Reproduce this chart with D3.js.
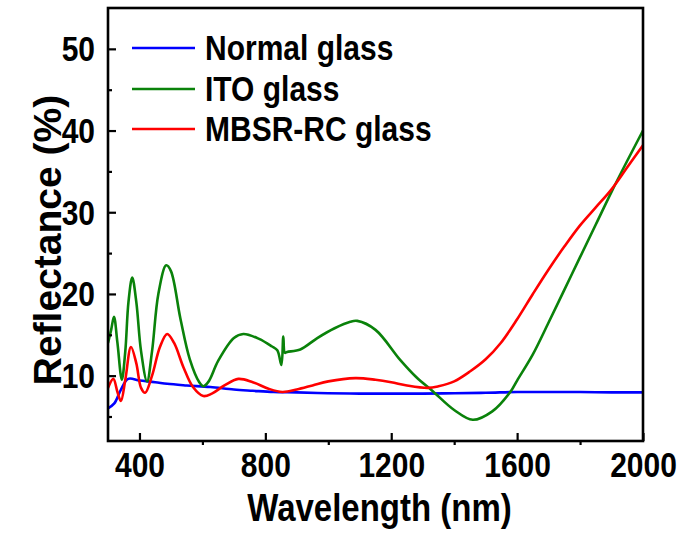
<!DOCTYPE html>
<html>
<head>
<meta charset="UTF-8">
<title>reflectance</title>
<style>
    body { margin: 0; background: #ffffff; }
    svg text { font-family: "Liberation Sans", Arial, sans-serif; font-weight: bold; fill: #000; }
</style>
<script src="https://d3js.org/d3.v7.min.js"></script>
</head>
<body>
<div id="plot"></div>
<script>
// wavelength (nm) / reflectance (%)
const normalWl = [300, 320, 340, 364, 400, 450, 488, 550, 625, 700, 760, 826, 900, 1000, 1100, 1200, 1300, 1400, 1500, 1600, 1700, 1800, 1900, 2000];
const normalR  = [6.0, 6.6, 8.2, 9.6, 9.4, 9.2, 9.0, 8.8, 8.6, 8.3, 8.15, 8.0, 7.95, 7.85, 7.8, 7.8, 7.8, 7.85, 7.9, 8.0, 8.0, 8.0, 7.95, 7.95];

const itoWl = [300, 310, 319, 330, 344, 355, 365, 377, 390, 405, 424, 440, 460, 485, 500, 530, 560, 590, 603, 620, 650, 700, 730, 780, 820, 838, 851, 857, 862, 869, 911, 965, 1020, 1070, 1092, 1150, 1229, 1280, 1332, 1400, 1459, 1520, 1580, 1600, 1650, 1700, 1750, 1800, 1850, 1900, 1950, 2000];
const itoR  = [14.0, 15.6, 17.2, 14.0, 9.5, 13.0, 19.0, 22.0, 19.0, 13.0, 9.3, 13.0, 20.0, 23.5, 22.8, 17.0, 12.0, 9.2, 8.7, 9.3, 11.8, 14.6, 15.1, 14.5, 13.6, 13.1, 11.3, 14.8, 12.8, 12.9, 13.2, 14.6, 15.8, 16.6, 16.7, 15.6, 11.9, 9.8, 8.1, 5.8, 4.6, 5.6, 8.1, 9.4, 12.6, 16.5, 20.5, 24.5, 28.5, 32.5, 36.3, 40.0];

const mbsrWl = [300, 317, 330, 341, 355, 373, 390, 405, 418, 440, 465, 488, 510, 540, 570, 603, 630, 670, 714, 760, 810, 854, 900, 950, 1000, 1086, 1150, 1200, 1250, 1316, 1350, 1400, 1450, 1500, 1548, 1600, 1650, 1700, 1750, 1800, 1850, 1900, 1950, 2000];
const mbsrR  = [8.5, 9.6, 8.0, 6.9, 9.5, 13.5, 11.5, 8.5, 7.9, 10.0, 13.5, 15.1, 14.0, 11.0, 8.6, 7.5, 7.8, 8.8, 9.6, 9.2, 8.4, 8.0, 8.3, 8.8, 9.3, 9.7, 9.5, 9.2, 8.8, 8.5, 8.7, 9.3, 10.5, 12.0, 14.0, 16.9, 20.0, 23.0, 25.8, 28.4, 30.6, 32.8, 35.5, 38.2];

const seriesNames = ["Normal glass", "ITO glass", "MBSR-RC glass"];
const seriesColors = ["#0000ff", "#0a820a", "#ff0000"];

const xTicks = [400, 800, 1200, 1600, 2000];
const xMinor = [600, 1000, 1400, 1800];
const yTicks = [10, 20, 30, 40, 50];
const yMinor = [5, 15, 25, 35, 45];

// the source figure is a bit taller than wide, text included
const stretch = 1.15;

function draw() {
    const width = 684, height = 536;
    const left = 108, right = 643, top = 8, bottom = 441;

    const svg = d3.select("#plot").append("svg")
        .attr("width", width)
        .attr("height", height);

    const x = d3.scaleLinear().domain([300, 2000]).range([left, right]);
    const y = d3.scaleLinear().domain([2, 55]).range([bottom, top]);

    const series = [
        normalWl.map((w, i) => [w, normalR[i]]),
        itoWl.map((w, i) => [w, itoR[i]]),
        mbsrWl.map((w, i) => [w, mbsrR[i]])
    ];

    const line = d3.line()
        .x(d => x(d[0]))
        .y(d => y(d[1]))
        .curve(d3.curveCatmullRom.alpha(0.5));

    svg.append("defs").append("clipPath").attr("id", "clip")
        .append("rect")
        .attr("x", left).attr("y", top)
        .attr("width", right - left).attr("height", bottom - top);

    const lines = svg.append("g").attr("clip-path", "url(#clip)");
    series.forEach((s, i) => {
        lines.append("path")
            .datum(s)
            .attr("fill", "none")
            .attr("stroke", seriesColors[i])
            .attr("stroke-width", 2.6)
            .attr("stroke-linejoin", "round")
            .attr("d", line);
    });

    // axes, major ticks pointing inward
    const xAxis = svg.append("g")
        .attr("transform", `translate(0, ${bottom})`)
        .call(d3.axisBottom(x).tickValues(xTicks).tickSizeInner(-8).tickSizeOuter(0).tickFormat(d3.format("d")));
    svg.append("g")
        .attr("transform", `translate(0, ${bottom})`)
        .call(d3.axisBottom(x).tickValues(xMinor).tickSize(4).tickFormat(""));

    const yAxis = svg.append("g")
        .attr("transform", `translate(${left}, 0)`)
        .call(d3.axisLeft(y).tickValues(yTicks).tickSizeInner(-8).tickSizeOuter(0).tickFormat(d3.format("d")));
    svg.append("g")
        .attr("transform", `translate(${left}, 0)`)
        .call(d3.axisLeft(y).tickValues(yMinor).tickSize(-4).tickFormat(""));

    svg.selectAll(".domain").remove();
    svg.selectAll(".tick line").attr("stroke", "#000").attr("stroke-width", 2.2);
    xAxis.selectAll(".tick text")
        .style("font-size", "30px")
        .attr("y", 0).attr("dy", null)
        .attr("transform", `translate(0, 36) scale(1, ${stretch})`);
    yAxis.selectAll(".tick text")
        .style("font-size", "30px")
        .attr("x", 0).attr("dy", null)
        .attr("transform", `translate(-13, 12) scale(1, ${stretch})`);

    svg.append("rect")
        .attr("x", left).attr("y", top)
        .attr("width", right - left).attr("height", bottom - top)
        .attr("fill", "none")
        .attr("stroke", "#000")
        .attr("stroke-width", 2.6);

    svg.append("text")
        .attr("transform", `translate(${(left + right) / 2 + 4}, 521) scale(1, ${stretch})`)
        .attr("text-anchor", "middle")
        .style("font-size", "33px")
        .text("Wavelength (nm)");

    svg.append("text")
        .attr("transform", "translate(61, 240) rotate(-90)")
        .attr("text-anchor", "middle")
        .style("font-size", "39px")
        .text("Reflectance (%)");

    // legend
    const legendY = [48, 89, 129];
    seriesNames.forEach((name, i) => {
        svg.append("line")
            .attr("x1", 132).attr("x2", 195)
            .attr("y1", legendY[i]).attr("y2", legendY[i])
            .attr("stroke", seriesColors[i])
            .attr("stroke-width", 2.6);
        svg.append("text")
            .attr("transform", `translate(205, ${legendY[i] + 12}) scale(1, ${stretch})`)
            .style("font-size", "30px")
            .text(name);
    });
}

window.onload = function () {
    draw();
};
</script>
</body>
</html>
